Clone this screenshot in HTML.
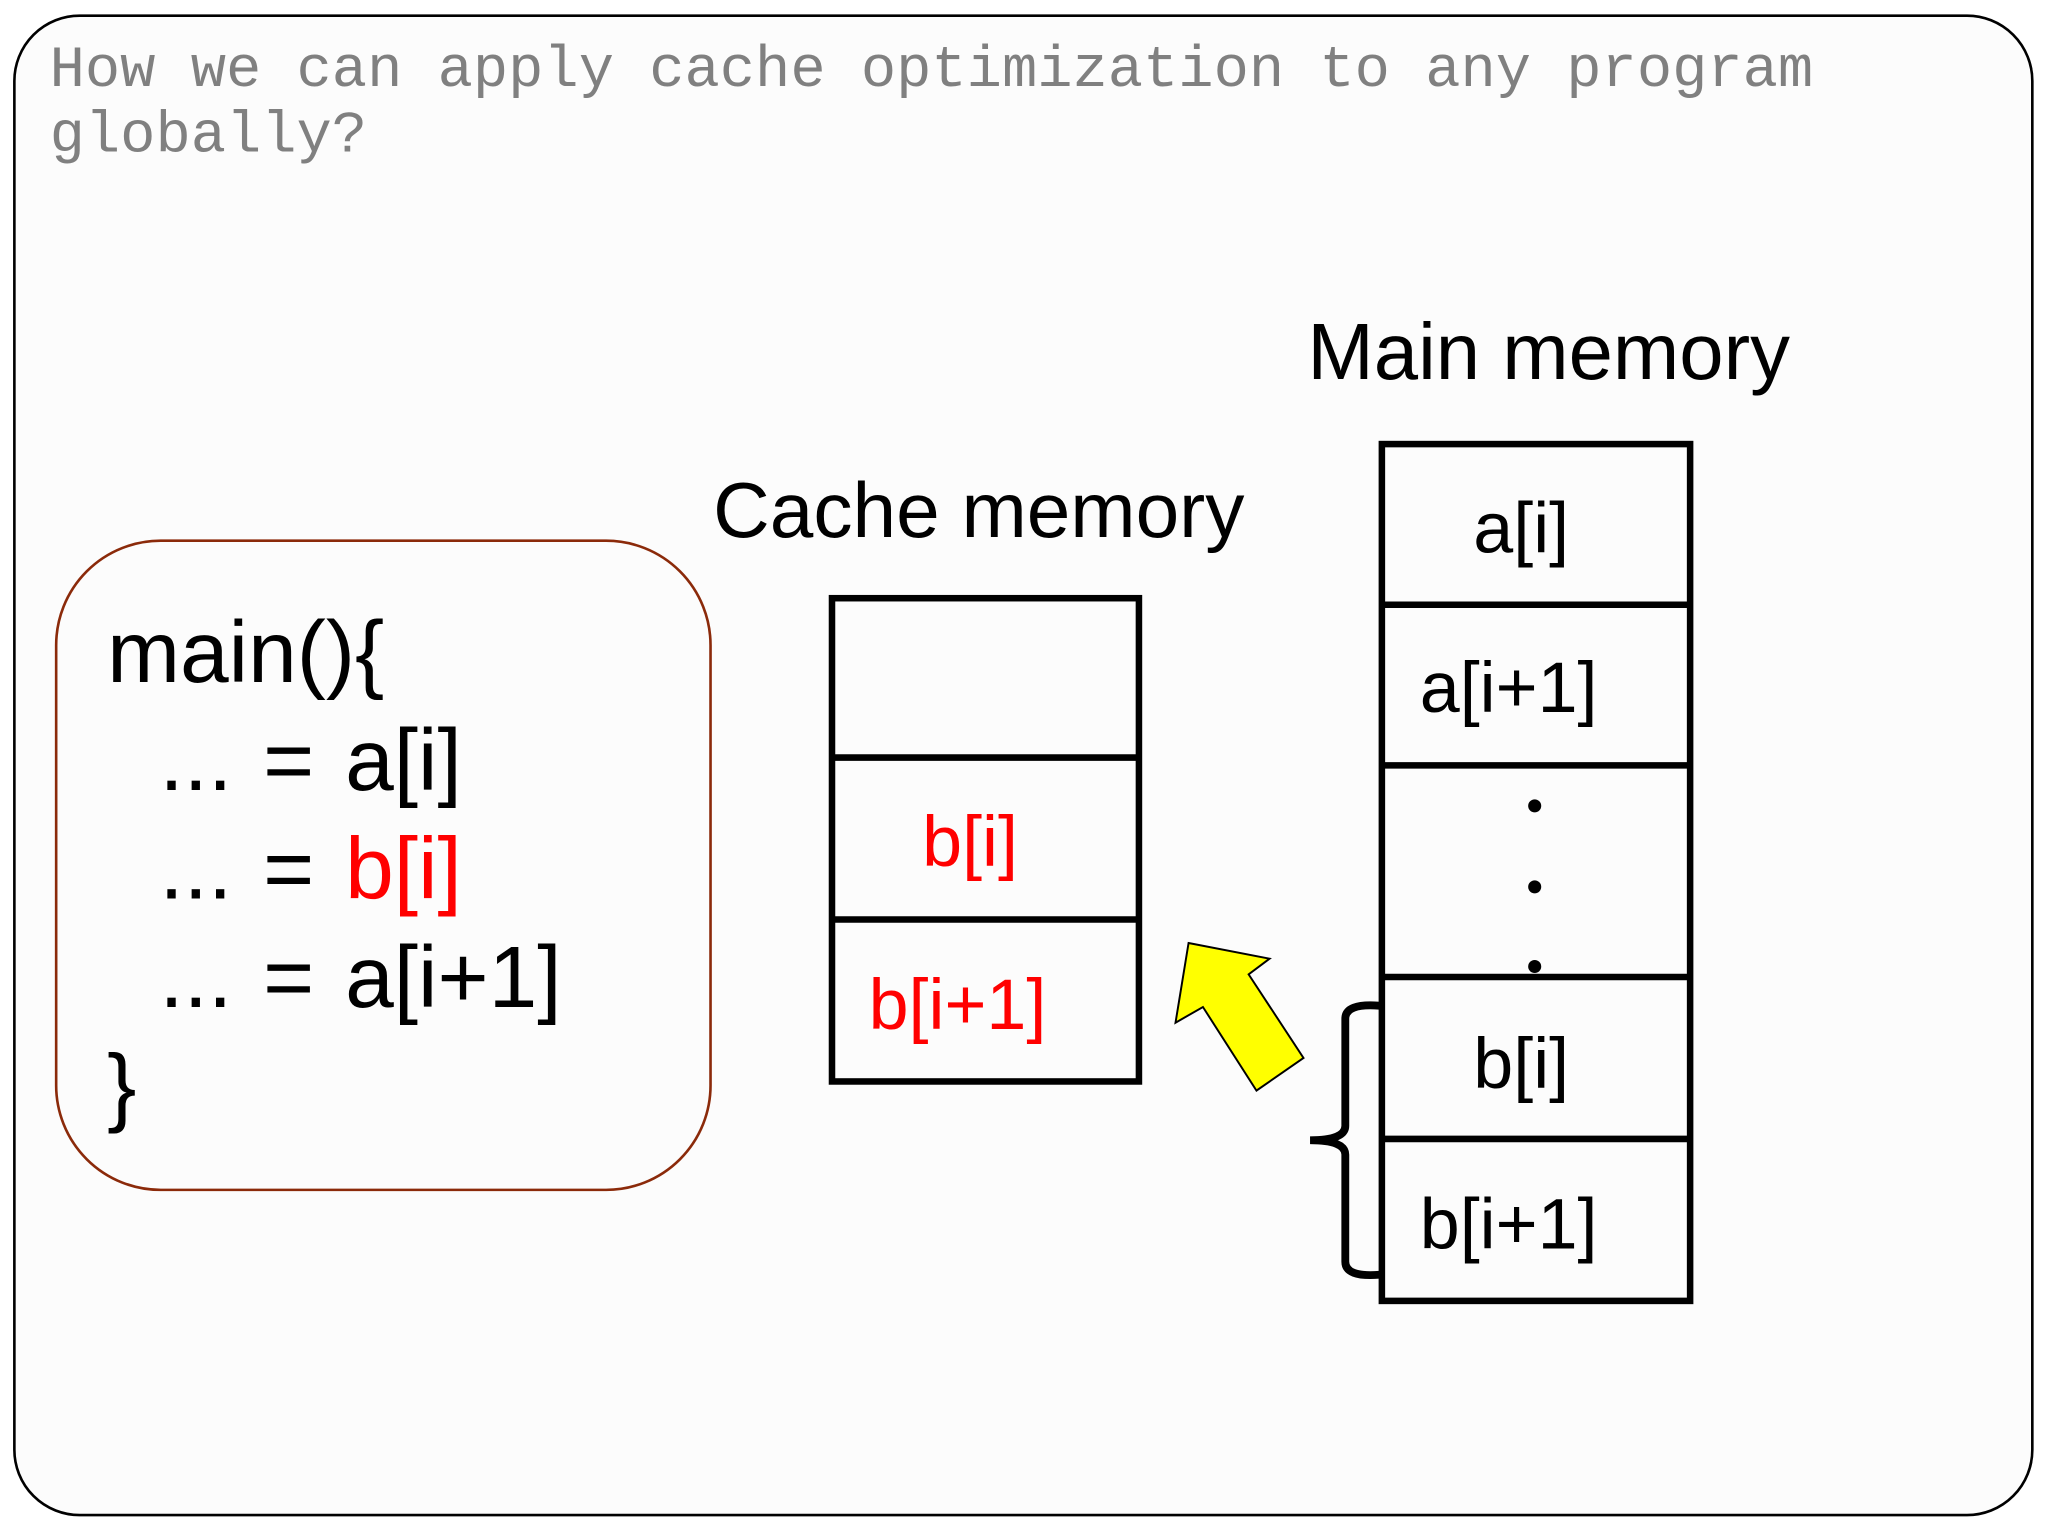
<!DOCTYPE html>
<html><head><style>
html,body{margin:0;padding:0;background:#fff;width:2048px;height:1536px;overflow:hidden}
#w{position:absolute;left:0;top:0;width:1568px;height:1176px;transform:scale(1.30612);transform-origin:0 0}
.t{position:absolute;font-family:"Liberation Sans",sans-serif;white-space:pre;line-height:1}
.c{font-size:67px;word-spacing:5px}
</style></head><body><div id="w">
<svg width="1568" height="1176" style="position:absolute;left:0;top:0">
<rect x="11" y="12" width="1545" height="1148" rx="50" fill="#fcfcfc" stroke="#000" stroke-width="2"/>
<rect x="43" y="414" width="501" height="497" rx="80" fill="none" stroke="#8b2a0a" stroke-width="2"/>
<g fill="none" stroke="#000" stroke-width="5">
<rect x="637" y="458" width="235" height="370"/>
<line x1="637" y1="580" x2="872" y2="580"/><line x1="637" y1="704" x2="872" y2="704"/>
<rect x="1058" y="340" width="236" height="656"/>
<line x1="1058" y1="463" x2="1294" y2="463"/><line x1="1058" y1="586" x2="1294" y2="586"/>
<line x1="1058" y1="748" x2="1294" y2="748"/><line x1="1058" y1="872" x2="1294" y2="872"/>
<path d="M1056 770 Q1030 768 1030 780 L1030 862 Q1030 873 1003 873 Q1030 873 1030 884 L1030 966 Q1030 978 1056 976" stroke-width="6"/>
</g>
<g fill="#000"><circle cx="1175" cy="617" r="5"/><circle cx="1175" cy="679" r="5"/><circle cx="1175" cy="740" r="5"/></g>
<polygon points="910,722 972,734 956,746 998,810 962,835 921,771 900,783" fill="#ffff00" stroke="#000" stroke-width="1.5"/>
</svg>
<div class="t" style="left:38px;top:30px;font-family:'Liberation Mono',monospace;font-size:45px;color:#808080;line-height:50px">How we can apply cache optimization to any program
globally?</div>
<div class="t c" style="left:82px;top:466px">main(){</div>
<div class="t c" style="left:122px;top:549px">... = a[i]</div>
<div class="t c" style="left:122px;top:632px">... = <span style="color:#f00">b[i]</span></div>
<div class="t c" style="left:122px;top:715px">... = a[i+1]</div>
<div class="t c" style="left:82px;top:798px">}</div>
<div class="t" style="left:546px;top:361px;font-size:60px">Cache memory</div>
<div class="t" style="left:1001px;top:239px;font-size:61px">Main memory</div>
<div class="t" style="left:1128px;top:377px;font-size:55px">a[i]</div>
<div class="t" style="left:1087px;top:499px;font-size:55px">a[i+1]</div>
<div class="t" style="left:706px;top:617px;font-size:55px;color:#f00">b[i]</div>
<div class="t" style="left:665px;top:742px;font-size:55px;color:#f00">b[i+1]</div>
<div class="t" style="left:1128px;top:787px;font-size:55px">b[i]</div>
<div class="t" style="left:1087px;top:910px;font-size:55px">b[i+1]</div>
</div></body></html>
